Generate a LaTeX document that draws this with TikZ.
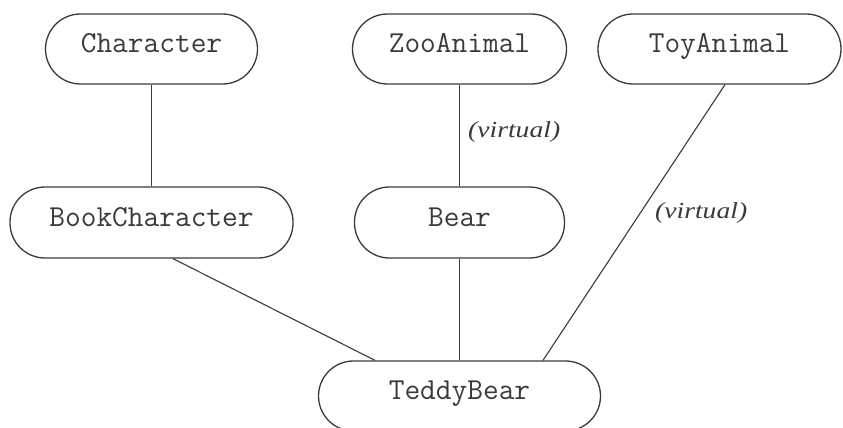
\documentclass[tikz,border=0pt]{standalone}
\usepackage{fontspec}
\newfontfamily\virtfont{Liberation Serif}
\usetikzlibrary{calc}
\definecolor{ink}{HTML}{3A3A3A}
\tikzset{
  cls/.style={draw=ink, line width=1.3pt, rounded corners=35pt, minimum height=70pt,
    inner sep=0pt, text=ink, font=\ttfamily\fontsize{30.5}{30.5}\selectfont,
    text height=19pt, text depth=12pt},
  edge/.style={draw=ink, line width=1.1pt},
  virt/.style={font=\virtfont\itshape\fontsize{23}{23}\selectfont, text=ink, inner sep=0pt, anchor=west}
}
\begin{document}
\begin{tikzpicture}[x=1pt,y=-1pt]
\useasboundingbox (0,0) rectangle (843,428);
\node[cls, minimum width=212pt] (char) at (151.5,49) {Character};
\node[cls, minimum width=214pt] (zoo) at (459.5,49) {ZooAnimal};
\node[cls, minimum width=243pt] (toy) at (719.5,49) {ToyAnimal};
\node[cls, minimum width=283pt, minimum height=71pt] (book) at (151.5,222.5) {BookCharacter};
\node[cls, minimum width=210pt, minimum height=71pt] (bear) at (459.5,222.5) {Bear};
\node[cls, minimum width=282pt] (teddy) at (459.5,396) {TeddyBear};
\draw[edge] (char.south) -- (char.south |- book.north);
\draw[edge] (zoo.south) -- (zoo.south |- bear.north);
\draw[edge] (bear.south) -- (bear.south |- teddy.north);
\draw[edge] ($(book.south)+(21.5,0)$) -- ($(teddy.north)+(-84.5,0)$);
\draw[edge] ($(toy.south)+(5.5,0)$) -- ($(teddy.north)+(83.5,0)$);
\node[virt] (v1) at (468,132) {\scalebox{1.2}[1]{(virtual)}};
\node[virt] (v2) at (655,213) {\scalebox{1.2}[1]{(virtual)}};
\end{tikzpicture}
\end{document}
